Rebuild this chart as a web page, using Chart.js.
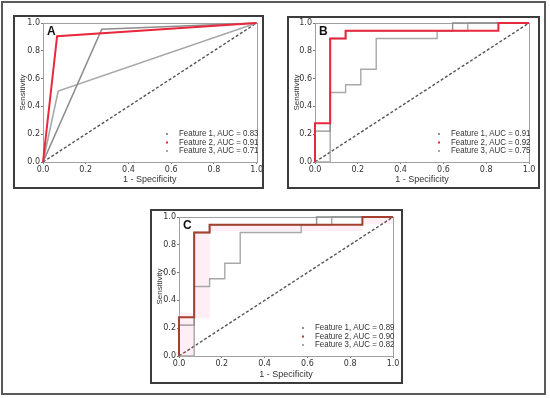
<!DOCTYPE html>
<html>
<head>
<meta charset="utf-8">
<script src="https://cdn.jsdelivr.net/npm/chart.js@4/dist/chart.umd.min.js"></script>
<style>
  body { margin: 0; background: #fff; width: 550px; height: 398px; position: relative; overflow: hidden; }
  .frame { position: absolute; left: 1px; top: 1px; width: 545px; height: 394px; border: 2px solid #5a5a5a; box-sizing: border-box; }
  .panel { position: absolute; border: 2px solid #3c3c3c; box-sizing: border-box; z-index: 2; }
  canvas { position: absolute; }
</style>
</head>
<body>
<div class="frame"></div>
<canvas id="chartA"></canvas><div class="panel" id="boxA"></div>
<canvas id="chartB"></canvas><div class="panel" id="boxB"></div>
<canvas id="chartC"></canvas><div class="panel" id="boxC"></div>
<script>
// panel A - single threshold curves
const xA1 = [0, 0.275, 1];
const yA1 = [0, 0.955, 1];
const xA2 = [0, 0.066, 1];
const yA2 = [0, 0.905, 1];
const xA3 = [0, 0.071, 1];
const yA3 = [0, 0.51, 1];
const aucA = [0.83, 0.91, 0.71];

// panels B and C - stepped curves
const xB1 = [0, 0, 0.071, 0.071, 0.143, 0.143, 0.643, 0.643, 1];
const yB1 = [0, 0.222, 0.222, 0.889, 0.889, 0.944, 0.944, 1, 1];
const xB2 = [0, 0, 0.071, 0.071, 0.143, 0.143, 0.857, 0.857, 1];
const yB2 = [0, 0.278, 0.278, 0.889, 0.889, 0.944, 0.944, 1, 1];
const xB3 = [0, 0.071, 0.071, 0.143, 0.143, 0.214, 0.214, 0.286, 0.286, 0.571, 0.571, 0.714, 0.714, 1];
const yB3 = [0, 0, 0.5, 0.5, 0.556, 0.556, 0.667, 0.667, 0.889, 0.889, 0.944, 0.944, 1, 1];
const aucB = [0.91, 0.92, 0.75];
const aucC = [0.89, 0.90, 0.82];

// shaded band around feature 2 in panel C
const xBand = [0, 0.071, 0.071, 0.143, 0.143, 0.857, 0.857, 1];
const yBandHi = [0.31, 0.31, 0.89, 0.89, 0.95, 0.95, 1, 1];
const yBandLo = [0, 0, 0.27, 0.27, 0.9, 0.9, 0.95, 0.95];

const ticks = [0, 0.2, 0.4, 0.6, 0.8, 1.0];
const diagX = [0, 1];
const diagY = [0, 1];

const pts = (xs, ys) => xs.map((x, i) => ({ x: x, y: ys[i] }));

const gray1 = "#8e8e8e";
const gray3 = "#a8a8a8";

const panelPlugin = {
  id: "panelDeco",
  beforeDatasetsDraw(chart) {
    // axes frame, under the curves
    const ctx = chart.ctx;
    const a = chart.chartArea;
    ctx.save();
    ctx.strokeStyle = "#a0a0a0";
    ctx.lineWidth = 1;
    ctx.strokeRect(Math.round(a.left) + 0.5, Math.round(a.top) + 0.5, Math.round(a.right - a.left), Math.round(a.bottom - a.top));
    ctx.restore();
  },
  afterDatasetsDraw(chart, args, opts) {
    const ctx = chart.ctx;
    const a = chart.chartArea;
    ctx.save();
    // panel letter
    ctx.fillStyle = "#111";
    ctx.font = "bold 12px 'Liberation Sans', Arial, sans-serif";
    ctx.textBaseline = "top";
    ctx.fillText(opts.letter, a.left + 4, a.top + 3);
    // legend
    ctx.font = "9px 'Liberation Sans', sans-serif";
    ctx.textBaseline = "middle";
    opts.legend.forEach((item, i) => {
      const y = a.bottom - opts.legendBottom - (opts.legend.length - 1 - i) * 8.5;
      const x = a.left + opts.legendLeft;
      ctx.fillStyle = item.color;
      ctx.fillRect(x - 13, y - 1, 2, 2);
      ctx.save();
      ctx.translate(x, y);
      ctx.scale(0.88, 1);
      ctx.fillStyle = "#333";
      ctx.fillText(item.text, 0, 0);
      ctx.restore();
    });
    ctx.restore();
  },
};

function makeChart(id, box, plot, datasets, letter, legend) {
  const cv = document.getElementById(id);
  cv.width = box.w;
  cv.height = box.h;
  cv.style.left = box.x + "px";
  cv.style.top = box.y + "px";
  const bd = document.getElementById("box" + letter);
  bd.style.left = box.x + "px";
  bd.style.top = box.y + "px";
  bd.style.width = box.w + "px";
  bd.style.height = box.h + "px";

  const tickFont = { family: "'DejaVu Sans', sans-serif", size: 8 };
  const axis = (title, size) => ({
    type: "linear",
    min: 0,
    max: 1,
    afterBuildTicks: (s) => { s.ticks = ticks.map((v) => ({ value: v })); },
    ticks: { font: tickFont, color: "#333", padding: 1, callback: (v) => v.toFixed(1), autoSkip: false, maxRotation: 0 },
    grid: { drawOnChartArea: false, tickLength: 2, color: "#777" },
    border: { display: false },
    title: { display: true, text: title, color: "#333", font: { family: "'Liberation Sans', sans-serif", size: size }, padding: { top: 5, bottom: 4 } },
  });
  const xs = axis("1 - Specificity", 9);
  xs.afterFit = (s) => { s.height = box.y + box.h - plot.bottom; };
  const ys = axis("Sensitivity", 8);
  ys.afterFit = (s) => { s.width = plot.left - box.x; };

  return new Chart(cv, {
    type: "scatter",
    data: { datasets: datasets },
    options: {
      responsive: false,
      animation: false,
      devicePixelRatio: 1,
      layout: { padding: { top: plot.top - box.y, right: box.x + box.w - plot.right, left: 0, bottom: 0 } },
      scales: { x: xs, y: ys },
      plugins: {
        legend: { display: false },
        tooltip: { enabled: false },
        panelDeco: { letter: letter, legend: legend, legendLeft: 136, legendBottom: 11 },
      },
      elements: { point: { radius: 0 } },
    },
    plugins: [panelPlugin],
  });
}

const line = (xs, ys, color, width, order) => ({
  data: pts(xs, ys),
  showLine: true,
  borderColor: color,
  borderWidth: width,
  pointRadius: 0,
  fill: false,
  clip: 2,
  order: order,
});

const diag = () => {
  const d = line(diagX, diagY, "#555", 1.4, 4);
  d.borderDash = [3, 2];
  return d;
};

const legendItems = (auc, red) => auc.map((v, i) => ({
  text: `Feature ${i + 1}, AUC = ${v.toFixed(2)}`,
  color: i === 1 ? red : (i === 0 ? gray1 : gray3),
}));

// Panel A
makeChart("chartA", { x: 13, y: 15, w: 251, h: 174 }, { left: 43, top: 23, right: 257, bottom: 162 }, [
  line(xA2, yA2, "#e8283c", 2, 0),
  line(xA1, yA1, gray1, 1.6, 1),
  line(xA3, yA3, gray3, 1.6, 2),
  diag(),
], "A", legendItems(aucA, "#e8283c"));

// Panel B
makeChart("chartB", { x: 287, y: 16, w: 253, h: 173 }, { left: 315, top: 23, right: 529, bottom: 162 }, [
  line(xB2, yB2, "#e8283c", 2, 0),
  line(xB1, yB1, gray1, 1.4, 1),
  line(xB3, yB3, gray3, 1.4, 2),
  diag(),
], "B", legendItems(aucB, "#e8283c"));

// Panel C
const bandHi = line(xBand, yBandHi, "rgba(0,0,0,0)", 0, 6);
bandHi.fill = "+1";
bandHi.backgroundColor = "rgba(255,195,220,0.28)";
const bandLo = line(xBand, yBandLo, "rgba(0,0,0,0)", 0, 7);
makeChart("chartC", { x: 150, y: 209, w: 253, h: 175 }, { left: 179, top: 217, right: 393, bottom: 356 }, [
  line(xB2, yB2, "#a3412e", 2, 0),
  line(xB1, yB1, gray1, 1.4, 1),
  line(xB3, yB3, gray3, 1.4, 2),
  diag(),
  bandHi,
  bandLo,
], "C", legendItems(aucC, "#a3412e"));
</script>
</body>
</html>
